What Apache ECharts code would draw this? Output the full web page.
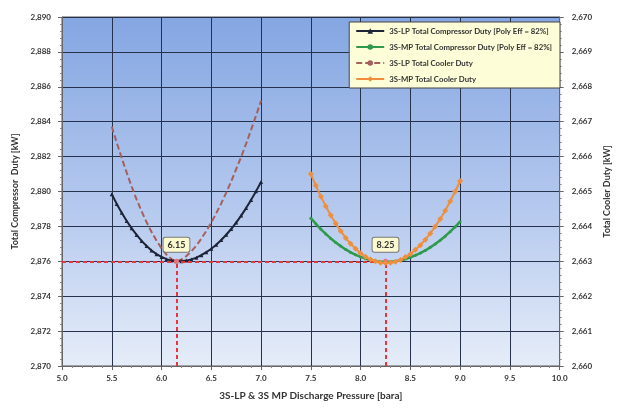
<!DOCTYPE html>
<html>
<head>
<meta charset="utf-8">
<script src="https://cdn.jsdelivr.net/npm/echarts@6/dist/echarts.min.js"></script>
<style>
  html, body { margin: 0; padding: 0; background: #fff; }
  #chart { width: 620px; height: 409px; }
</style>
</head>
<body>
<div id="chart"></div>
<script>
  // discharge pressure points [bara]
  const lpPressure = [5.50, 5.55, 5.60, 5.65, 5.70, 5.75, 5.80, 5.85, 5.90, 5.95, 6.00, 6.05, 6.10, 6.15, 6.20, 6.25,
    6.30, 6.35, 6.40, 6.45, 6.50, 6.55, 6.60, 6.65, 6.70, 6.75, 6.80, 6.85, 6.90, 6.95, 7.00];
  const mpPressure = [7.50, 7.55, 7.60, 7.65, 7.70, 7.75, 7.80, 7.85, 7.90, 7.95, 8.00, 8.05, 8.10, 8.15, 8.20, 8.25,
    8.30, 8.35, 8.40, 8.45, 8.50, 8.55, 8.60, 8.65, 8.70, 8.75, 8.80, 8.85, 8.90, 8.95, 9.00];

  // total compressor duty [kW] (left axis)
  const lpCompressor = [2879.84, 2879.29, 2878.78, 2878.31, 2877.89, 2877.51, 2877.17, 2876.88, 2876.62, 2876.41,
    2876.25, 2876.12, 2876.04, 2876.00, 2876.01, 2876.04, 2876.11, 2876.21, 2876.35, 2876.52, 2876.72, 2876.95,
    2877.22, 2877.52, 2877.85, 2878.22, 2878.62, 2879.05, 2879.52, 2880.02, 2880.55];
  const mpCompressor = [2878.47, 2878.15, 2877.85, 2877.57, 2877.31, 2877.08, 2876.87, 2876.68, 2876.51, 2876.37,
    2876.25, 2876.15, 2876.07, 2876.01, 2875.98, 2875.97, 2875.98, 2876.01, 2876.06, 2876.13, 2876.23, 2876.34,
    2876.47, 2876.62, 2876.80, 2876.99, 2877.21, 2877.44, 2877.70, 2877.97, 2878.27];

  // total cooler duty [kW] (right axis)
  const lpCooler = [2666.86, 2666.40, 2665.96, 2665.54, 2665.14, 2664.77, 2664.43, 2664.12, 2663.84, 2663.59,
    2663.37, 2663.19, 2663.06, 2663.00, 2663.05, 2663.15, 2663.29, 2663.45, 2663.65, 2663.87, 2664.11, 2664.38,
    2664.66, 2664.97, 2665.29, 2665.64, 2665.99, 2666.37, 2666.77, 2667.18, 2667.60];
  const mpCooler = [2665.50, 2665.17, 2664.86, 2664.58, 2664.32, 2664.08, 2663.87, 2663.67, 2663.50, 2663.36,
    2663.23, 2663.13, 2663.05, 2663.00, 2662.96, 2662.95, 2662.96, 2662.99, 2663.04, 2663.12, 2663.21, 2663.33,
    2663.46, 2663.62, 2663.80, 2664.00, 2664.21, 2664.45, 2664.72, 2665.00, 2665.30];

  // optimum markers
  const optPressure = [6.15, 8.25];
  const optLabels = ["6.15", "8.25"];
  const optDuty = 2876;
  const xStart = 5.0;
  const yBottom = 2870;

  const names = [
    "3S-LP Total Compressor Duty [Poly Eff = 82%]",
    "3S-MP Total Compressor Duty [Poly Eff = 82%]",
    "3S-LP Total Cooler Duty",
    "3S-MP Total Cooler Duty",
  ];

  const pairs = (xs, ys) => xs.map((x, i) => [x, ys[i]]);
  const comma = (v) => String(Math.round(v)).replace(/\B(?=(\d{3})+(?!\d))/g, ",");

  const font = "Lato, 'Liberation Sans', sans-serif";
  const labelStyle = { color: "#333", fontSize: 8, fontWeight: "bold", fontFamily: font };
  const splitStyle = { lineStyle: { color: "#26314b", width: 1 } };

  const chart = echarts.init(document.getElementById("chart"));

  chart.setOption({
    animation: false,
    textStyle: { fontFamily: font },
    grid: {
      left: 62,
      right: 59,
      top: 17,
      bottom: 43,
      show: true,
      borderColor: "#555",
      borderWidth: 1,
      backgroundColor: new echarts.graphic.LinearGradient(0, 0, 0, 1, [
        { offset: 0, color: "#84a6e2" },
        { offset: 0.55, color: "#b5c9ee" },
        { offset: 1, color: "#e6edf9" },
      ]),
    },
    legend: {
      orient: "vertical",
      right: 60,
      top: 22,
      itemWidth: 28,
      itemHeight: 7,
      itemGap: 8,
      padding: [5, 8, 5, 6],
      backgroundColor: "#fdfdd8",
      borderColor: "#444",
      borderWidth: 1,
      textStyle: { fontSize: 7.8, fontWeight: "bold", color: "#333", fontFamily: font },
      data: names,
    },
    xAxis: {
      type: "value",
      min: 5,
      max: 10,
      interval: 0.5,
      name: "3S-LP & 3S MP Discharge Pressure [bara]",
      nameLocation: "middle",
      nameGap: 25,
      nameTextStyle: { fontSize: 10, fontWeight: "bold", color: "#333" },
      axisLine: { lineStyle: { color: "#666" } },
      axisTick: { length: 4, lineStyle: { color: "#666" } },
      minorTick: { show: true, splitNumber: 5, length: 2, lineStyle: { color: "#888" } },
      axisLabel: { ...labelStyle, margin: 8, formatter: (v) => v.toFixed(1) },
      splitLine: splitStyle,
    },
    yAxis: [
      {
        type: "value",
        min: 2870,
        max: 2890,
        interval: 2,
        name: "Total Compressor  Duty [kW]",
        nameLocation: "middle",
        nameGap: 42,
        nameTextStyle: { fontSize: 9, fontWeight: "bold", color: "#333" },
        axisLine: { show: true, lineStyle: { color: "#666" } },
        axisTick: { show: true, length: 4, lineStyle: { color: "#666" } },
        minorTick: { show: true, splitNumber: 5, length: 2, lineStyle: { color: "#888" } },
        axisLabel: { ...labelStyle, margin: 11, formatter: comma },
        splitLine: splitStyle,
      },
      {
        type: "value",
        min: 2660,
        max: 2670,
        interval: 1,
        name: "Total Cooler Duty [kW]",
        nameLocation: "middle",
        nameGap: 43,
        nameRotate: 90,
        nameTextStyle: { fontSize: 9, fontWeight: "bold", color: "#333" },
        axisLine: { show: true, lineStyle: { color: "#666" } },
        axisTick: { show: true, length: 4, lineStyle: { color: "#666" } },
        minorTick: { show: true, splitNumber: 5, length: 2, lineStyle: { color: "#888" } },
        axisLabel: { ...labelStyle, margin: 12, formatter: comma },
        splitLine: { show: false },
      },
    ],
    series: [
      {
        name: names[2],
        type: "line",
        yAxisIndex: 1,
        symbol: "none",
        z: 3,
        lineStyle: { color: "#a4605c", width: 2, type: [6, 3] },
        itemStyle: { color: "#a4605c" },
        data: pairs(lpPressure, lpCooler),
      },
      {
        name: names[0],
        type: "line",
        yAxisIndex: 0,
        symbol: "triangle",
        symbolSize: 4,
        z: 4,
        lineStyle: { color: "#1d2438", width: 2 },
        itemStyle: { color: "#1d2438" },
        data: pairs(lpPressure, lpCompressor),
        markLine: {
          silent: true,
          symbol: "none",
          label: { show: false },
          lineStyle: { color: "#e8343c", width: 2, type: [4, 3] },
          data: [
            [{ coord: [xStart, optDuty] }, { coord: [optPressure[1], optDuty] }],
            [{ coord: [optPressure[0], yBottom] }, { coord: [optPressure[0], optDuty] }],
            [{ coord: [optPressure[1], yBottom] }, { coord: [optPressure[1], optDuty] }],
          ],
        },
        markPoint: {
          silent: true,
          symbol: "circle",
          symbolSize: 5,
          itemStyle: { color: "#e8707a" },
          label: {
            show: true,
            position: "top",
            distance: 7,
            formatter: (p) => p.name,
            fontSize: 9,
            fontWeight: "bold",
            color: "#333",
            backgroundColor: "#fbf9cf",
            borderColor: "#777",
            borderWidth: 1,
            borderRadius: 2,
            padding: [3, 4, 2, 4],
          },
          data: optPressure.map((x, i) => ({ name: optLabels[i], coord: [x, optDuty] })),
        },
      },
      {
        name: names[1],
        type: "line",
        yAxisIndex: 0,
        symbol: "circle",
        symbolSize: 3,
        z: 4,
        lineStyle: { color: "#2f9a4c", width: 2.5 },
        itemStyle: { color: "#2f9a4c" },
        data: pairs(mpPressure, mpCompressor),
      },
      {
        name: names[3],
        type: "line",
        yAxisIndex: 1,
        symbol: "diamond",
        symbolSize: 6,
        z: 5,
        lineStyle: { color: "#ee8f3e", width: 2 },
        itemStyle: { color: "#ee8f3e" },
        data: pairs(mpPressure, mpCooler),
      },
    ],
  });

  window.addEventListener("resize", () => chart.resize());
</script>
</body>
</html>
